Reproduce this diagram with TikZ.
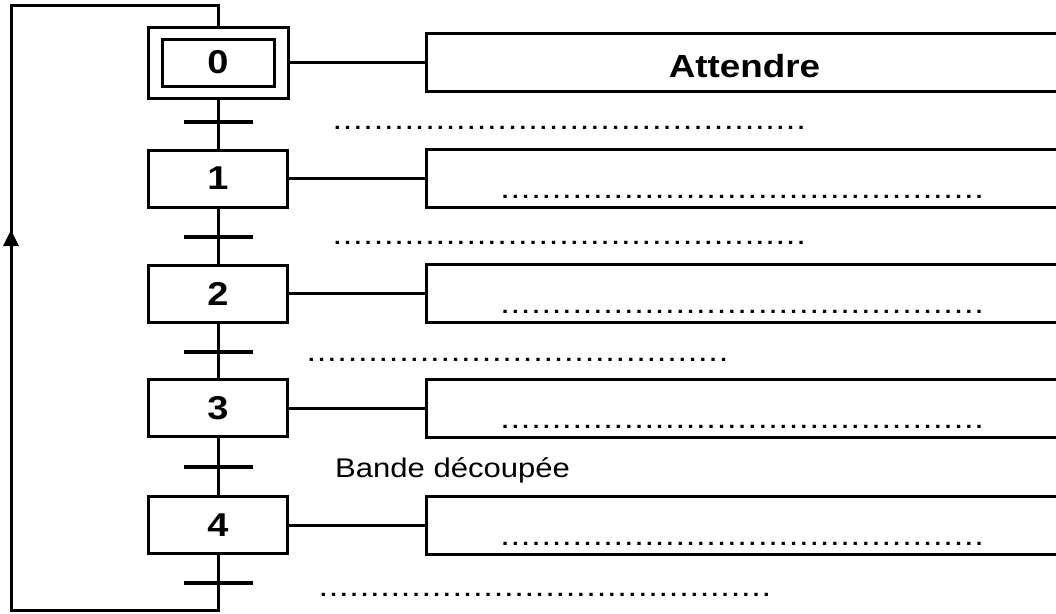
\documentclass[tikz,border=0pt]{standalone}
\usepackage{fontspec}
\setmainfont{Liberation Sans}[FakeStretch=1.15]
\usetikzlibrary{arrows.meta}
\newcommand{\pointilles}[1]{{\fontsize{30}{30}\selectfont\hbox to #1{\leaders\hbox to 10.3pt{\hss.\hss}\hfill}}}

\begin{document}
\begin{tikzpicture}[x=1pt,y=-1pt]
  \tikzstyle{etape}=[draw, line width=3pt, inner sep=0pt, minimum width=139pt, minimum height=57pt, font=\fontsize{33}{33}\selectfont\bfseries]
  \tikzstyle{action}=[draw, line width=3pt, inner sep=0pt, anchor=west, minimum width=636pt, minimum height=58pt, text height=40pt, text depth=0pt, font=\fontsize{27}{27}\selectfont]
  \tikzstyle{transition}=[fill, inner sep=0pt, minimum width=69pt, minimum height=4pt]
  \tikzstyle{lien}=[line width=3pt]
  \tikzstyle{texte}=[inner sep=0pt, anchor=base west, font=\fontsize{27}{27}\selectfont]
  \useasboundingbox (0,0) rectangle (1056,613);
  \clip (0,0) rectangle (1056,613);
  % etape initiale
  \node[etape, minimum width=140pt, minimum height=71pt] (e0) at (218,62.5) {};
  \node[etape, minimum width=112pt, minimum height=47pt] (e0i) at (218,62.5) {0};
  \node[action, text height=30pt] (a0) at (425,62.5) {\fontsize{32}{32}\selectfont\bfseries Attendre};
  \draw[lien] (e0) -- (a0);
  % etapes 1 a 4
  \foreach \n/\y in {1/178.5,2/293.5,3/408,4/525}{
    \node[etape] (e\n) at (218,\y) {\n};
    \node[action] (a\n) at (425,\y) {\pointilles{489pt}};
    \draw[lien] (e\n) -- (a\n);
  }
  % transitions
  \foreach \n/\y in {0/122,1/237,2/352,3/467,4/583}
    \node[transition] (t\n) at (218,\y) {};
  \draw[lien] (e0) -- (t0) -- (e1) -- (t1) -- (e2) -- (t2) -- (e3) -- (t3) -- (e4) -- (t4);
  % retour
  \coordinate (bas) at (218,610);
  \coordinate (coin) at (11,610);
  \coordinate (haut) at (11,5);
  \coordinate (fleche) at (11,230);
  \draw[lien] (t4) -- (bas) -- (coin) -- (haut) -| (e0);
  \draw[lien, -{Triangle[length=16pt,width=15pt]}] (coin) -- (fleche);
  % receptivites
  \node[texte] (r0) at (332,129.5) {\pointilles{475pt}};
  \node[texte] (r1) at (332,244) {\pointilles{475pt}};
  \node[texte] (r2) at (306,361) {\pointilles{426pt}};
  \node[texte] (r3) at (335,477) {Bande découpée};
  \node[texte] (r4) at (318,596) {\pointilles{457pt}};
\end{tikzpicture}
\end{document}
